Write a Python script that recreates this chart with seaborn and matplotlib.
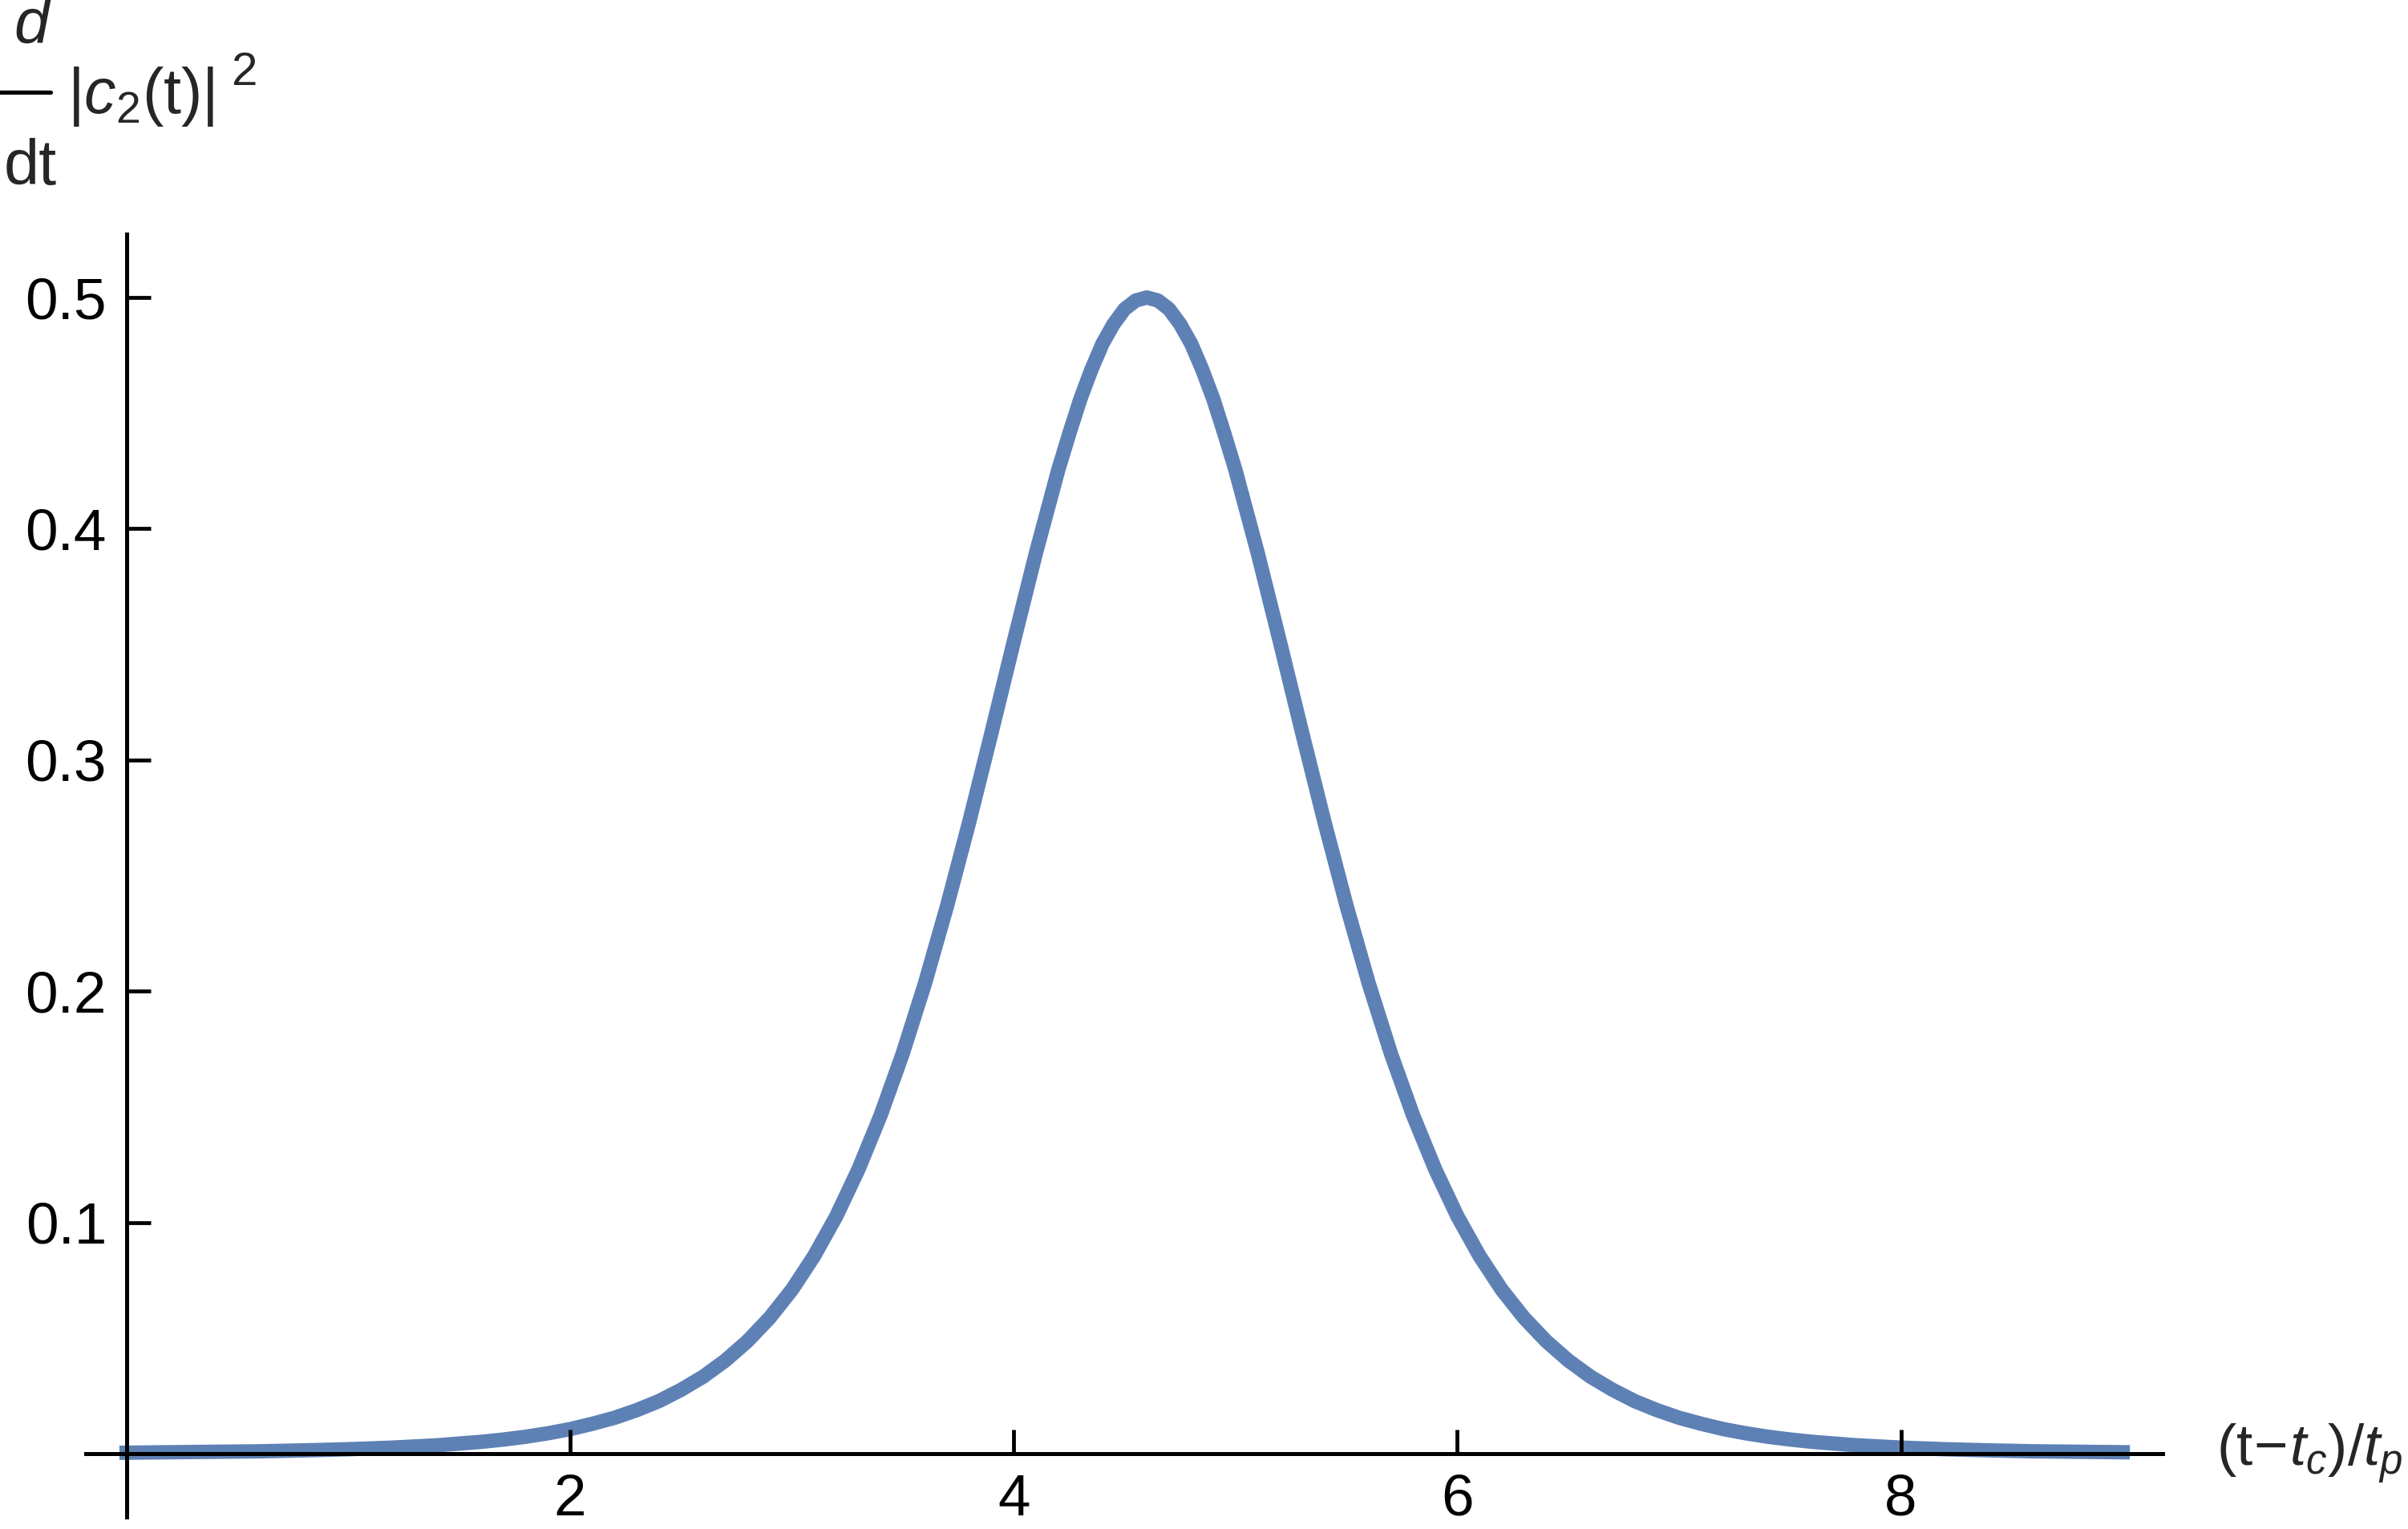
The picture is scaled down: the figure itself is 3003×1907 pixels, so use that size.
import matplotlib
matplotlib.use("Agg")
import matplotlib.pyplot as plt
from matplotlib.lines import Line2D
from matplotlib.ticker import FixedLocator, FixedFormatter
import seaborn as sns
import pandas as pd

# ---- data ----
t_values = [0.0, 0.2, 0.4, 0.6, 0.8, 1.0, 1.2, 1.4, 1.6,
            1.7, 1.8, 1.9, 2.0, 2.1, 2.2, 2.3, 2.4, 2.5, 2.6, 2.7, 2.8, 2.9,
            3.0, 3.1, 3.2, 3.3, 3.4, 3.5, 3.6, 3.7, 3.8, 3.9, 4.0, 4.1, 4.2,
            4.25, 4.3, 4.35, 4.4, 4.45, 4.5, 4.55, 4.6, 4.65, 4.7, 4.75, 4.8,
            4.85, 4.9, 4.95, 5.0,
            5.1, 5.2, 5.3, 5.4, 5.5, 5.6, 5.7, 5.8, 5.9, 6.0, 6.1, 6.2,
            6.3, 6.4, 6.5, 6.6, 6.7, 6.8, 6.9, 7.0, 7.1, 7.2, 7.3, 7.4, 7.5, 7.6,
            7.8, 8.0, 8.2, 8.4, 8.6, 8.8, 9.0]
rate_values = [0.0004, 0.0006, 0.0008, 0.0010, 0.0014, 0.0019, 0.0026, 0.0036, 0.0051,
               0.0061, 0.0073, 0.0088, 0.0106, 0.0129, 0.0155, 0.0188, 0.0227, 0.0276,
               0.0333, 0.0403, 0.0487, 0.0588,
               0.0709, 0.0855, 0.1027, 0.1230, 0.1464, 0.1732, 0.2035, 0.2371, 0.2735,
               0.3119, 0.3511, 0.3895, 0.4252,
               0.4410, 0.4560, 0.4688, 0.4800, 0.4885, 0.4950, 0.4987, 0.5000, 0.4987,
               0.4950, 0.4885, 0.4800, 0.4688, 0.4560, 0.4410, 0.4252,
               0.3895, 0.3511, 0.3119, 0.2735, 0.2371, 0.2035, 0.1732, 0.1464, 0.1230,
               0.1027, 0.0855, 0.0709,
               0.0588, 0.0487, 0.0403, 0.0333, 0.0276, 0.0227, 0.0188, 0.0155, 0.0129,
               0.0106, 0.0088, 0.0073, 0.0061, 0.0051,
               0.0036, 0.0026, 0.0019, 0.0014, 0.0010, 0.0008, 0.0006]

x_major_ticks = [2, 4, 6, 8]
x_tick_labels = ["2", "4", "6", "8"]
y_major_ticks = [0.1, 0.2, 0.3, 0.4, 0.5]
y_tick_labels = ["0.1", "0.2", "0.3", "0.4", "0.5"]
x_minor_ticks = [0.5, 1.0, 1.5, 2.5, 3.0, 3.5, 4.5, 5.0, 5.5, 6.5, 7.0, 7.5, 8.5, 9.0]
y_minor_ticks = [-0.02, 0.02, 0.04, 0.06, 0.08, 0.12, 0.14, 0.16, 0.18, 0.22, 0.24, 0.26,
                 0.28, 0.32, 0.34, 0.36, 0.38, 0.42, 0.44, 0.46, 0.48, 0.52]

df = pd.DataFrame({"t": t_values, "rate": rate_values})

sns.set_style("white")
plt.rcParams["font.family"] = ["Liberation Sans", "DejaVu Sans"]
plt.rcParams["mathtext.fontset"] = "custom"
plt.rcParams["mathtext.rm"] = "Liberation Sans"
plt.rcParams["mathtext.it"] = "Liberation Sans:italic"
plt.rcParams["mathtext.bf"] = "Liberation Sans:bold"

W, H = 3003, 1907
DPI = 300
fig = plt.figure(figsize=(W / DPI, H / DPI), dpi=DPI)
ax = fig.add_axes([107 / W, 15 / H, 2590 / W, 1600 / H])

line_color = "#5E81B5"
sns.lineplot(data=df, x="t", y="rate", ax=ax, color=line_color, linewidth=4.3,
             solid_capstyle="projecting", solid_joinstyle="round", sort=False)

ax.set_xlim(-0.184, 9.18)
ax.set_ylim(-0.0274, 0.5274)
ax.set_xlabel("")
ax.set_ylabel("")

for s in ["top", "right"]:
    ax.spines[s].set_visible(False)
ax.spines["left"].set_position(("data", 0))
ax.spines["bottom"].set_position(("data", 0))
for s in ["left", "bottom"]:
    ax.spines[s].set_linewidth(1.2)
    ax.spines[s].set_color("black")
ax.set_axisbelow(False)

ax.xaxis.set_major_locator(FixedLocator(x_major_ticks))
ax.xaxis.set_major_formatter(FixedFormatter(x_tick_labels))
ax.yaxis.set_major_locator(FixedLocator(y_major_ticks))
ax.yaxis.set_major_formatter(FixedFormatter(y_tick_labels))
ax.xaxis.set_minor_locator(FixedLocator(x_minor_ticks))
ax.yaxis.set_minor_locator(FixedLocator(y_minor_ticks))

ax.tick_params(axis="both", which="major", direction="in", length=7.2, width=1.15,
               color="black", labelsize=17.5, labelcolor="black")
ax.tick_params(axis="both", which="minor", direction="in", length=4.3, width=1.15,
               color="black")
ax.tick_params(axis="x", which="major", pad=6, bottom=True, top=False)
ax.tick_params(axis="y", which="major", pad=6, left=True, right=False)
ax.grid(False)
ax.set_facecolor("white")

# x axis label at the right end of the axis
fig.text(2764 / W, 1 - 1813 / H, r"$(\mathrm{t}\!-\!t_c)/t_p$", ha="left", va="center",
         fontsize=17.5)

# y axis label: d/dt |c2(t)|^2 as a fraction at top left
fs = 19
fig.text(39 / W, 1 - 54 / H, "d", style="italic", ha="center", va="baseline", fontsize=fs)
fig.add_artist(Line2D([0, 63 / W], [1 - 115 / H, 1 - 115 / H], color="black", lw=1.25,
                      transform=fig.transFigure))
fig.text(38 / W, 1 - 230 / H, "dt", ha="center", va="baseline", fontsize=fs)
fig.text(84 / W, 1 - 141 / H, r"$|c_2(\mathrm{t})|$", ha="left", va="baseline", fontsize=fs)
fig.text(288 / W, 1 - 106 / H, "2", ha="left", va="baseline", fontsize=14)

fig.savefig("out.png", dpi=DPI, facecolor="white")
